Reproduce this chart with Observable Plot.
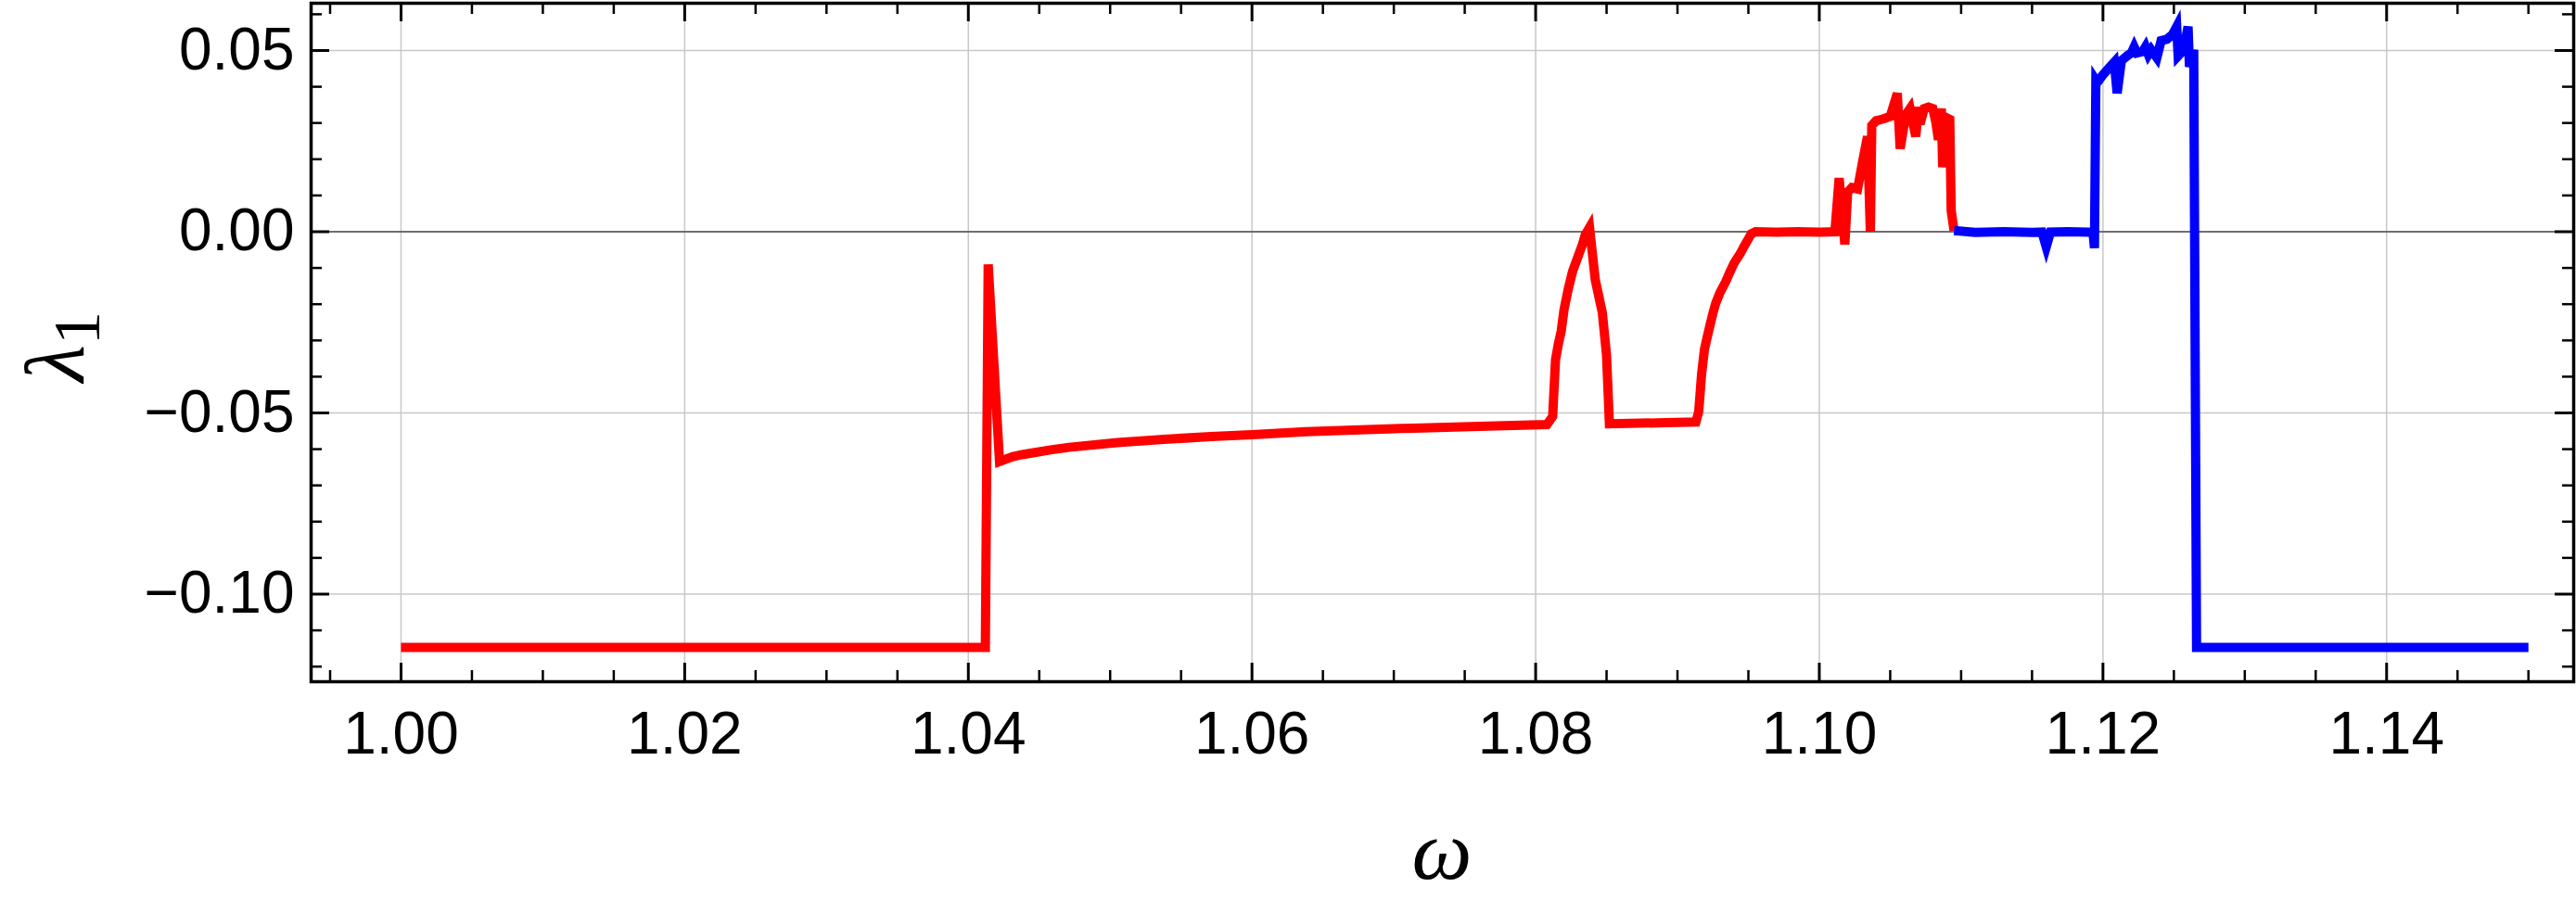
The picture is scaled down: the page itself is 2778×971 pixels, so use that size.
<!DOCTYPE html>
<html>
<head>
<meta charset="utf-8">
<script src="https://cdn.jsdelivr.net/npm/d3@7"></script>
<script src="https://cdn.jsdelivr.net/npm/@observablehq/plot@0.6"></script>
<style>
  html, body { margin: 0; padding: 0; background: #fff; }
</style>
</head>
<body>
<div id="chart"></div>
<script>
// ---- data ----
const redOmega = [1.0000, 1.0412, 1.0414, 1.0422, 1.0431, 1.0438, 1.0458, 1.0471, 1.0505, 1.0538,
  1.0571, 1.0600, 1.0638, 1.0705, 1.0772, 1.0808, 1.0812, 1.0814, 1.0816, 1.0818, 1.0820, 1.0823,
  1.0826, 1.0830, 1.0833, 1.0835, 1.0838, 1.0842, 1.0847, 1.0850, 1.0852, 1.0892, 1.0913, 1.0915,
  1.0917, 1.0919, 1.0921, 1.0923, 1.0925, 1.0927, 1.0930, 1.0934, 1.0937, 1.0940, 1.0944, 1.0947, 1.0950, 1.0952, 1.0955, 1.0970,
  1.0985, 1.1000, 1.1011, 1.1014, 1.1018, 1.1020, 1.1023, 1.1027, 1.1031, 1.1034,
  1.1036, 1.1037, 1.1040, 1.1044, 1.1050, 1.1055, 1.1057, 1.1061, 1.1064, 1.1068,
  1.1070, 1.1071, 1.1074, 1.1077, 1.1080, 1.1082, 1.1084, 1.1086, 1.1087, 1.1090,
  1.1092, 1.1093, 1.1095];
const redLambda = [-0.1147, -0.1147, -0.0090, -0.0634, -0.0621, -0.0615, -0.0602, -0.0595, -0.0582, -0.0573,
  -0.0565, -0.0560, -0.0552, -0.0543, -0.0536, -0.0532, -0.0510, -0.0354, -0.0310, -0.0275, -0.0215, -0.0158,
  -0.0110, -0.0067, -0.0035, -0.0008, 0.0012, -0.0132, -0.0223, -0.0341, -0.0530, -0.0527, -0.0525, -0.0496,
  -0.0393, -0.0325, -0.0290, -0.0257, -0.0225, -0.0197, -0.0168, -0.0138, -0.0111, -0.0086, -0.0062, -0.0040, -0.0020, -0.0006, 0.0000, -0.0001,
  0.0000, -0.0001, 0.0000, 0.0148, -0.0035, 0.0109, 0.0122, 0.0118, 0.0203, 0.0263,
  0.0000, 0.0293, 0.0306, 0.0310, 0.0318, 0.0382, 0.0229, 0.0323, 0.0340, 0.0263,
  0.0344, 0.0297, 0.0340, 0.0344, 0.0340, 0.0306, 0.0254, 0.0340, 0.0178, 0.0314,
  0.0310, 0.0058, 0.0003];

const blueOmega = [1.1095, 1.1110, 1.1130, 1.1150, 1.1157, 1.1160, 1.1163, 1.1175, 1.1190, 1.1193,
  1.1194, 1.1195, 1.1196, 1.1200, 1.1205, 1.1208, 1.1210, 1.1213, 1.1217, 1.1220,
  1.1222, 1.1224, 1.1228, 1.1230, 1.1232, 1.1234, 1.1238, 1.1241, 1.1245, 1.1249,
  1.1252, 1.1253, 1.1257, 1.1260, 1.1261, 1.1264, 1.1266, 1.1500];
const blueLambda = [0.0003, -0.0002, 0.0000, -0.0002, -0.0001, -0.0042, -0.0001, 0.0000, -0.0001, -0.0002,
  -0.0045, 0.0418, 0.0412, 0.0433, 0.0455, 0.0468, 0.0382, 0.0472, 0.0485, 0.0493,
  0.0510, 0.0493, 0.0497, 0.0510, 0.0489, 0.0502, 0.0480, 0.0527, 0.0531, 0.0544,
  0.0566, 0.0485, 0.0502, 0.0566, 0.0455, 0.0502, -0.1147, -0.1147];

const xMajorTicks = [1.00, 1.02, 1.04, 1.06, 1.08, 1.10, 1.12, 1.14];
const yMajorTicks = [-0.10, -0.05, 0.00, 0.05];
const xMinorTicks = d3.range(0, 32).map(i => +(0.995 + i * 0.005).toFixed(3)).filter(v => !xMajorTicks.some(m => Math.abs(m - v) < 1e-9));
const yMinorTicks = d3.range(0, 19).map(i => +(-0.12 + i * 0.01).toFixed(2)).filter(v => !yMajorTicks.some(m => Math.abs(m - v) < 1e-9));

const xLabel = "ω";
const yLabelMain = "λ";
const yLabelSub = "1";

// ---- layout ----
const W = 2778, H = 971;
const mL = 335, mR = 3, mT = 3, mB = 236;
const innerH = H - mT - mB;
const majorLen = 20, minorLen = 12;

const red = redOmega.map((x, i) => ({x, y: redLambda[i]}));
const blue = blueOmega.map((x, i) => ({x, y: blueLambda[i]}));

const fmt = d3.format(".2f");

const plot = Plot.plot({
  width: W,
  height: H,
  marginLeft: mL,
  marginRight: mR,
  marginTop: mT,
  marginBottom: mB,
  style: {fontFamily: "'Liberation Sans', Arial, sans-serif", fontSize: "64px", background: "#fff", color: "#000"},
  x: {domain: [0.99366, 1.15319], label: null},
  y: {domain: [-0.12417, 0.06304], label: null},
  marks: [
    Plot.gridX(xMajorTicks, {stroke: "#c8c8c8", strokeOpacity: 1, strokeWidth: 1.5}),
    Plot.gridY(yMajorTicks, {stroke: "#c8c8c8", strokeOpacity: 1, strokeWidth: 1.5}),
    Plot.ruleY([0], {stroke: "#6e6e6e", strokeWidth: 2.2}),
    Plot.line(red, {x: "x", y: "y", stroke: "#ff0000", strokeWidth: 10, strokeLinejoin: "miter", strokeLinecap: "butt", strokeMiterlimit: 4}),
    Plot.line(blue, {x: "x", y: "y", stroke: "#0000ff", strokeWidth: 10, strokeLinejoin: "miter", strokeLinecap: "butt", strokeMiterlimit: 4}),
    // ticks (inward) on all four sides
    Plot.tickX(xMajorTicks, {x: d => d, insetTop: innerH - majorLen, stroke: "#000", strokeWidth: 3}),
    Plot.tickX(xMinorTicks, {x: d => d, insetTop: innerH - minorLen, stroke: "#000", strokeWidth: 2.5}),
    Plot.tickX(xMajorTicks, {x: d => d, insetBottom: innerH - majorLen, stroke: "#000", strokeWidth: 3}),
    Plot.tickX(xMinorTicks, {x: d => d, insetBottom: innerH - minorLen, stroke: "#000", strokeWidth: 2.5}),
    Plot.tickY(yMajorTicks, {y: d => d, insetRight: (W - mL - mR) - majorLen, stroke: "#000", strokeWidth: 3}),
    Plot.tickY(yMinorTicks, {y: d => d, insetRight: (W - mL - mR) - minorLen, stroke: "#000", strokeWidth: 2.5}),
    Plot.tickY(yMajorTicks, {y: d => d, insetLeft: (W - mL - mR) - majorLen, stroke: "#000", strokeWidth: 3}),
    Plot.tickY(yMinorTicks, {y: d => d, insetLeft: (W - mL - mR) - minorLen, stroke: "#000", strokeWidth: 2.5}),
    Plot.axisX(xMajorTicks, {tickFormat: fmt, tickSize: 0, tickPadding: 32, label: null, fill: "#000"}),
    Plot.axisY(yMajorTicks, {tickFormat: fmt, tickSize: 0, tickPadding: 18, label: null, fill: "#000"}),
    Plot.frame({stroke: "#000", strokeWidth: 3.5})
  ]
});

document.getElementById("chart").appendChild(plot);

// axis titles (Mathematica-style italic serif)
const svg = d3.select(plot);
svg.append("text")
  .attr("x", (mL + W - mR) / 2)
  .attr("y", 948)
  .attr("text-anchor", "middle")
  .attr("font-family", "'Liberation Serif', 'Times New Roman', serif")
  .attr("font-style", "italic")
  .attr("font-size", 92)
  .attr("fill", "#000")
  .text(xLabel);

const yl = svg.append("text")
  .attr("transform", "translate(90,374) rotate(-90)")
  .attr("text-anchor", "middle")
  .attr("font-family", "'Liberation Serif', 'Times New Roman', serif")
  .attr("font-size", 92)
  .attr("fill", "#000");
yl.append("tspan").attr("font-style", "italic").text(yLabelMain);
yl.append("tspan").attr("font-size", 72).attr("dy", 17).text(yLabelSub);
</script>
</body>
</html>
